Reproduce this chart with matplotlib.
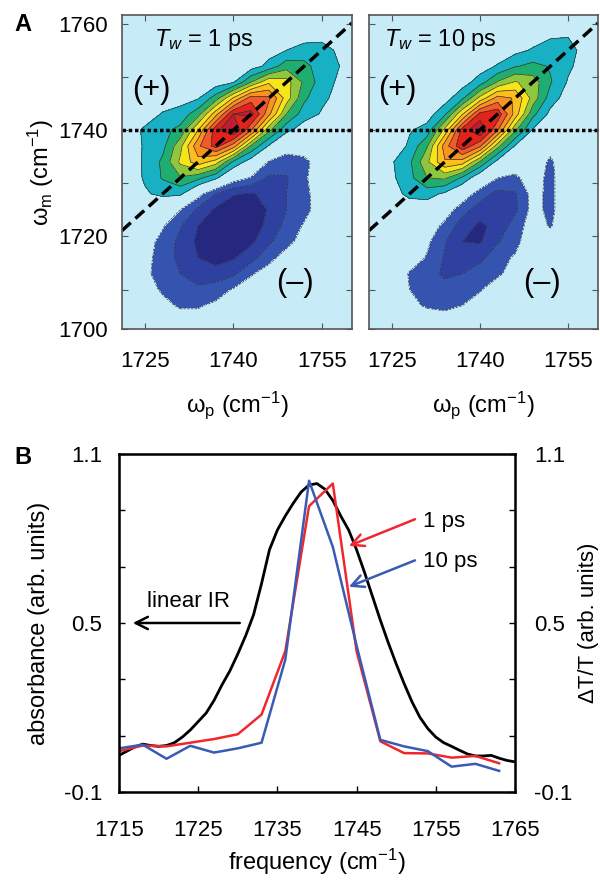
import numpy as np
import matplotlib
matplotlib.use('Agg')
import matplotlib.pyplot as plt

plt.rcParams['font.family'] = ['Liberation Sans', 'DejaVu Sans']
plt.rcParams['mathtext.fontset'] = 'custom'
plt.rcParams['mathtext.rm'] = 'Liberation Sans'
plt.rcParams['mathtext.it'] = 'Liberation Sans:italic'
plt.rcParams['mathtext.bf'] = 'Liberation Sans:bold'

# 2D IR grid (cm-1)
wp = np.arange(1722, 1759, 3)   # pump frequency, 13 columns
wm = np.arange(1701, 1762, 3)   # probe frequency, 21 rows

# 1 ps spectrum, percent of peak, rows = wm from 1701 up
spec_1ps = [
    [-1, -2, -3, -3, -3, -2, -2, -1, 0, 0, 0, 0, 0],
    [-2, -4, -5, -6, -6, -5, -4, -2, -1, 0, 0, 0, 0],
    [-3, -5, -8, -11, -11, -8, -6, -4, -2, -1, 0, 0, 0],
    [-3, -7, -11, -16, -18, -15, -9, -5, -3, -2, -1, 0, 0],
    [-4, -8, -14, -20, -25, -26, -22, -11, -6, -3, -2, -1, 0],
    [-3, -7, -14, -23, -30, -34, -31, -24, -13, -6, -3, -1, 0],
    [-2, -6, -13, -23, -32, -38, -38, -32, -22, -13, -6, -2, -1],
    [1, -2, -9, -19, -30, -38, -41, -36, -27, -17, -9, -4, -1],
    [3, 3, 0, -10, -22, -32, -38, -37, -29, -20, -13, -5, -2],
    [6, 9, 12, 12, -6, -20, -29, -31, -27, -20, -12, -6, -2],
    [5, 11, 21, 29, 23, 12, -4, -11, -22, -21, -11, -6, -3],
    [6, 11, 22, 42, 56, 45, 18, 4, -11, -14, -12, -6, -2],
    [5, 11, 17, 37, 68, 84, 65, 29, 9, -6, -6, -3, -1],
    [4, 12, 17, 23, 50, 87, 100, 71, 33, 13, 4, 2, 1],
    [1, 4, 11, 14, 26, 56, 90, 94, 63, 30, 15, 9, 3],
    [1, 1, 3, 6, 9, 25, 51, 75, 72, 45, 22, 12, 7],
    [0, 0, 1, 2, 4, 4, 9, 30, 48, 44, 28, 15, 8],
    [0, 0, 0, 1, 2, 3, 5, 5, 13, 26, 23, 15, 10],
    [0, 0, 0, 0, 1, 1, 2, 4, 6, 10, 14, 14, 8],
    [0, 0, 0, 0, 0, 0, 1, 1, 2, 4, 5, 6, 5],
    [0, 0, 0, 0, 0, 0, 0, 0, 1, 1, 2, 2, 2],
]

# 10 ps spectrum, same grid
spec_10ps = [
    [0, -1, -1, -2, -2, -1, 0, 0, 0, 0, 0, 0, 0],
    [0, -1, -3, -5, -6, -4, -1, 0, 0, 0, 0, 0, 0],
    [0, -3, -8, -11, -12, -10, -5, -1, 0, 0, 0, 0, 0],
    [0, -3, -10, -14, -16, -15, -11, -4, -1, 0, 0, 0, 0],
    [0, -1, -11, -15, -22, -20, -14, -12, -5, -1, -1, 0, 0],
    [0, -1, -4, -11, -21, -27, -23, -13, -9, -3, -2, 0, 0],
    [1, 0, -2, -8, -19, -30, -31, -21, -13, -3, -4, 0, 0],
    [1, 2, 1, -3, -13, -25, -32, -27, -15, -5, -11, -1, 0],
    [2, 4, 5, 3, -4, -16, -25, -26, -22, -6, -13, -1, 0],
    [2, 7, 12, 14, 8, -3, -15, -23, -21, -6, -13, -1, 0],
    [2, 8, 17, 30, 32, 18, 1, -10, -12, -5, -13, -1, 0],
    [1, 9, 18, 38, 59, 55, 29, 6, -4, -3, -12, -1, 0],
    [0, 2, 12, 29, 65, 88, 72, 34, 9, -1, -6, -1, 0],
    [0, 1, 9, 14, 43, 84, 100, 71, 32, 9, -1, 0, 0],
    [0, 0, 1, 5, 18, 49, 83, 87, 56, 23, 7, 2, 0],
    [0, 0, 0, 1, 5, 18, 43, 64, 59, 36, 15, 5, 2],
    [0, 0, 0, 0, 1, 5, 15, 31, 41, 35, 21, 9, 3],
    [0, 0, 0, 0, 0, 1, 5, 11, 19, 23, 19, 12, 5],
    [0, 0, 0, 0, 0, 0, 1, 3, 7, 11, 15, 14, 6],
    [0, 0, 0, 0, 0, 0, 0, 1, 2, 5, 8, 9, 6],
    [0, 0, 0, 0, 0, 0, 0, 0, 1, 1, 3, 4, 4],
]

# linear IR and pump-probe slices (panel B)
freq_ir = [1715, 1716, 1717, 1718, 1719, 1720, 1721, 1722, 1723, 1724, 1725, 1726, 1727, 1728,
           1729, 1730, 1731, 1732, 1733, 1734, 1735, 1736, 1737, 1738, 1739, 1740, 1741, 1742,
           1743, 1744, 1745, 1746, 1747, 1748, 1749, 1750, 1751, 1752, 1753, 1754, 1755, 1756,
           1757, 1758, 1759, 1760, 1761, 1762, 1763, 1764, 1765]
absorb_ir = [0.03, 0.045, 0.06, 0.07, 0.065, 0.062, 0.065, 0.075, 0.095, 0.12, 0.15, 0.18, 0.225, 0.28,
             0.33, 0.39, 0.455, 0.53, 0.64, 0.76, 0.83, 0.88, 0.925, 0.965, 0.99, 0.995, 0.975, 0.935,
             0.88, 0.83, 0.76, 0.68, 0.595, 0.51, 0.43, 0.355, 0.285, 0.22, 0.165, 0.125, 0.095, 0.075,
             0.062, 0.048, 0.035, 0.028, 0.028, 0.03, 0.02, 0.012, 0.007]
freq_pp = [1715, 1718, 1721, 1724, 1727, 1730, 1733, 1736, 1739, 1742, 1745, 1748, 1751, 1754, 1757, 1760, 1763]
dtt_1ps = [0.045, 0.065, 0.062, 0.075, 0.088, 0.105, 0.175, 0.40, 0.915, 0.995, 0.40, 0.08, 0.038, 0.037, 0.022, 0.028, 0.002]
dtt_10ps = [0.055, 0.068, 0.018, 0.064, 0.04, 0.055, 0.075, 0.37, 1.005, 0.77, 0.42, 0.085, 0.062, 0.045, -0.01, 0.0, -0.025]

levels = [-2, -0.3, -0.2, -0.1, 0.1, 0.2, 0.3, 0.4, 0.5, 0.6, 0.7, 0.8, 0.9, 2]
fill_colors = ['#26287f', '#2e40a0', '#3454b0', '#c8ebf8',
               '#17b1c3', '#1fae72', '#8dc63f', '#f5e61c', '#fcbf1e',
               '#f7931e', '#f15a29', '#e2231a', '#be1e2d']
bg = '#c8ebf8'

X, Y = np.meshgrid(wp, wm)

fig = plt.figure(figsize=(6, 8.8), dpi=100)
ax1 = fig.add_axes([0.2033, 0.6261, 0.3833, 0.3568])
ax2 = fig.add_axes([0.615, 0.6261, 0.3817, 0.3568])

for ax, spec, title, tx in [(ax1, spec_1ps, '1 ps', 1726.6), (ax2, spec_10ps, '10 ps', 1723.7)]:
    z = np.array(spec) / 100
    ax.set_facecolor(bg)
    ax.contourf(X, Y, z, levels=levels, colors=fill_colors)
    ax.contour(X, Y, z, levels=levels[1:-1], colors='#333333', linewidths=0.5)
    # diagonal and 1740 cm-1 slice
    ax.plot([1721.1, 1760.1], [1721.1, 1760.1], color='k', lw=2.5, ls=(0, (3.4, 1.8)))
    ax.axhline(1740, color='k', lw=2.5, ls=(0, (1, 0.8)))
    ax.set_xlim(1721.1, 1760.1)
    ax.set_ylim(1702.6, 1761.6)
    ax.set_xticks([1725, 1740, 1755])
    ax.set_yticks([1702.6, 1710, 1720, 1730, 1740, 1750, 1760])
    ax.tick_params(direction='in', top=True, right=True, length=4, width=0.8,
                   labelsize=16, pad=16, colors='#555555', labelcolor='k')
    ax.tick_params(axis='y', pad=10)
    for s in ax.spines.values():
        s.set_color('#555555')
        s.set_linewidth(1.2)
    ax.set_xlabel('ω$_\\mathrm{p}$ (cm$^{-1}$)', fontsize=17, labelpad=12)
    ax.text(tx, 1757, '$T_w$ = ' + title, fontsize=17, ha='left', va='center')
    ax.text(1726, 1747.5, '(+)', fontsize=22, ha='center', va='center')
    ax.text(1750.5, 1711.3, '(–)', fontsize=22, ha='center', va='center')

ax1.set_yticklabels(['1700', '', '1720', '', '1740', '', '1760'])
ax2.set_yticklabels([])
ax1.set_ylabel('ω$_\\mathrm{m}$ (cm$^{-1}$)', fontsize=17, labelpad=2)

axb = fig.add_axes([0.1983, 0.1, 0.66, 0.3841])
axb.plot(freq_ir, absorb_ir, color='k', lw=2)
axb.plot(freq_pp, dtt_1ps, color='#f0282d', lw=1.8)
axb.plot(freq_pp, dtt_10ps, color='#3a5bb5', lw=1.8)
axb.set_xlim(1715, 1765)
axb.set_ylim(-0.1, 1.1)
axb.set_xticks(range(1715, 1766, 10))
yt = [-0.1, 0.1, 0.3, 0.5, 0.7, 0.9, 1.1]
ylab = ['-0.1', '', '', '0.5', '', '', '1.1']
axb.set_yticks(yt)
axb.set_yticklabels(ylab)
axb.tick_params(direction='in', length=4, width=1, labelsize=16)
axb.tick_params(axis='x', pad=20)
axb.tick_params(axis='y', pad=12)
for s in axb.spines.values():
    s.set_linewidth(1.8)
axb.set_xlabel('frequency (cm$^{-1}$)', fontsize=17, labelpad=4)
axb.set_ylabel('absorbance (arb. units)', fontsize=17, labelpad=10)
axr = axb.twinx()
axr.set_ylim(-0.1, 1.1)
axr.set_yticks(yt)
axr.set_yticklabels(ylab)
axr.tick_params(direction='in', length=4, width=1, labelsize=16, pad=14)
axr.set_ylabel('ΔT/T (arb. units)', fontsize=16, labelpad=4)

axb.annotate('', xy=(1716.4, 0.5), xytext=(1730.6, 0.5),
             arrowprops=dict(arrowstyle='->', color='k', lw=1.8, mutation_scale=22))
axb.text(1723.8, 0.577, 'linear IR', fontsize=16, ha='center', va='center')
axb.annotate('', xy=(1743.7, 0.770), xytext=(1752.7, 0.872),
             arrowprops=dict(arrowstyle='->', color='#f0282d', lw=1.8, mutation_scale=22))
axb.text(1753.4, 0.862, '1 ps', fontsize=16, ha='left', va='center')
axb.annotate('', xy=(1743.7, 0.625), xytext=(1752.7, 0.726),
             arrowprops=dict(arrowstyle='->', color='#3a5bb5', lw=1.8, mutation_scale=22))
axb.text(1753.4, 0.72, '10 ps', fontsize=16, ha='left', va='center')

fig.text(0.038, 0.972, 'A', fontsize=17, fontweight='bold', ha='center', va='center')
fig.text(0.038, 0.48, 'B', fontsize=17, fontweight='bold', ha='center', va='center')

fig.savefig('out.png', dpi=100)
